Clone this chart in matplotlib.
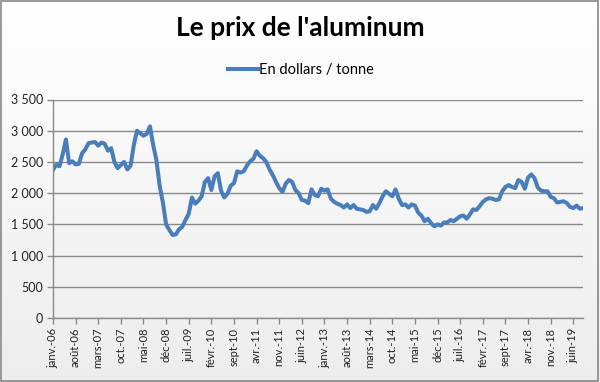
import numpy as np
import matplotlib
matplotlib.use("Agg")
import matplotlib.pyplot as plt
from matplotlib.patches import Rectangle

# Monthly aluminium price, USD / tonne (Jan 2006 - Sep 2019)
y2006 = [2370, 2455, 2430, 2620, 2860, 2480, 2510, 2460, 2470, 2640, 2700, 2800]
y2007 = [2810, 2820, 2760, 2810, 2790, 2680, 2720, 2500, 2400, 2450, 2500, 2380]
y2008 = [2440, 2770, 3000, 2960, 2920, 2950, 3070, 2770, 2530, 2120, 1850, 1500]
y2009 = [1410, 1330, 1340, 1420, 1460, 1570, 1670, 1930, 1830, 1880, 1950, 2180]
y2010 = [2240, 2050, 2270, 2320, 2040, 1930, 1990, 2120, 2160, 2350, 2330, 2350]
y2011 = [2440, 2510, 2550, 2670, 2600, 2560, 2500, 2380, 2290, 2180, 2080, 2020]
y2012 = [2150, 2210, 2180, 2050, 2000, 1890, 1880, 1840, 2060, 1970, 1950, 2070]
y2013 = [2040, 2060, 1910, 1860, 1830, 1810, 1770, 1820, 1760, 1810, 1750, 1740]
y2014 = [1730, 1700, 1710, 1810, 1750, 1840, 1950, 2030, 1990, 1950, 2060, 1910]
y2015 = [1810, 1820, 1770, 1820, 1800, 1690, 1640, 1550, 1590, 1520, 1470, 1500]
y2016 = [1480, 1530, 1530, 1570, 1550, 1590, 1630, 1640, 1590, 1660, 1740, 1730]
y2017 = [1790, 1860, 1900, 1920, 1910, 1890, 1900, 2030, 2100, 2130, 2100, 2080]
y2018 = [2210, 2180, 2070, 2250, 2300, 2240, 2090, 2040, 2030, 2030, 1940, 1920]
y2019 = [1850, 1860, 1870, 1840, 1780, 1760, 1800, 1750, 1760]

prices = (y2006 + y2007 + y2008 + y2009 + y2010 + y2011 + y2012 + y2013 +
          y2014 + y2015 + y2016 + y2017 + y2018 + y2019)

tick_labels = ["janv.-06", "août-06", "mars-07", "oct.-07", "mai-08", "déc-08",
               "juil.-09", "févr.-10", "sept-10", "avr.-11", "nov.-11", "juin-12",
               "janv.-13", "août-13", "mars-14", "oct.-14", "mai-15", "déc-15",
               "juil.-16", "févr.-17", "sept-17", "avr.-18", "nov.-18", "juin-19"]
tick_step = 7

title = "Le prix de l'aluminum"
series_name = "En dollars / tonne"

plt.rcParams['font.family'] = ['Lato', 'DejaVu Sans']

fig = plt.figure(figsize=(6.0, 3.82), dpi=100)

# background gradient
bg = fig.add_axes([0, 0, 1, 1], zorder=-10)
grad = np.linspace(1.0, 0.93, 256).reshape(-1, 1)
bg.imshow(np.dstack([grad, grad, grad]), aspect='auto', extent=[0, 1, 0, 1])
bg.set_axis_off()
fig.patches.append(Rectangle((0.002, 0.003), 0.995, 0.994, transform=fig.transFigure,
                             fill=False, edgecolor='#888888', lw=1.2))

ax = fig.add_axes([53/600, 1-318/382, 530/600, (318-99.5)/382])
ax.patch.set_alpha(0)
x = np.arange(len(prices))
line, = ax.plot(x, prices, color='#4a7ebb', lw=2.9, solid_joinstyle='round',
                label=series_name)

ax.set_xlim(0, len(prices) - 1)
ax.set_ylim(0, 3500)
yt = np.arange(0, 3501, 500)
ax.set_yticks(yt)
ax.set_yticklabels([f"{v:,}".replace(",", " ") for v in yt], fontsize=9,
                   color='#222222')
ax.set_xticks(np.arange(0, tick_step * len(tick_labels), tick_step))
ax.set_xticklabels(tick_labels, rotation=90, fontsize=8, color='#222222')
ax.grid(axis='y', color='#8a8a8a', lw=1.0)
ax.set_axisbelow(True)
for s in ['top', 'right']:
    ax.spines[s].set_visible(False)
for s in ['left', 'bottom']:
    ax.spines[s].set_color('#8a8a8a')
    ax.spines[s].set_linewidth(1.0)
ax.tick_params(axis='both', color='#8a8a8a', length=4, width=1.0, pad=3)

fig.text(0.5, 1-28/382, title, ha='center', va='center', fontsize=19,
         fontweight='bold', color='black')
leg = fig.legend(handles=[line], loc='center', bbox_to_anchor=(0.502, 1-70/382),
                 frameon=False, fontsize=10.5, handlelength=2.0, handletextpad=0.1)

fig.savefig("out.png", dpi=100)
